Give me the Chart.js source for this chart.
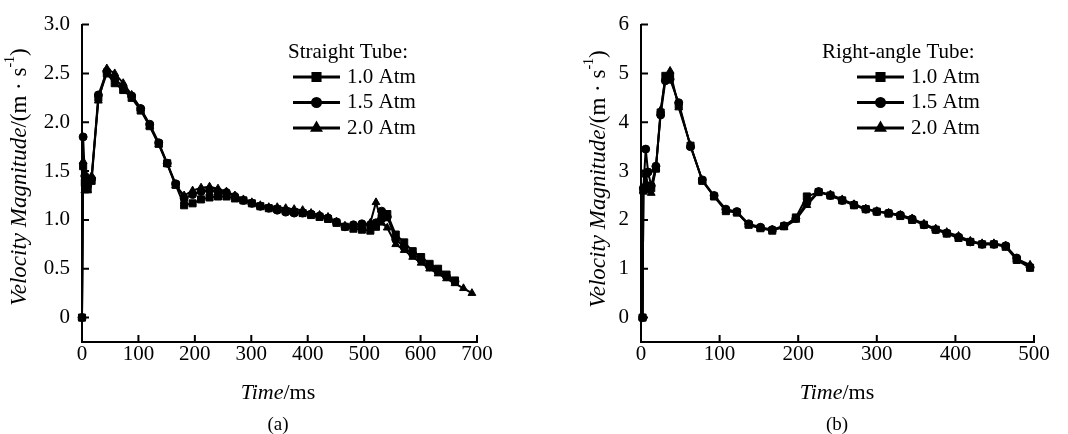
<!DOCTYPE html>
<html>
<head>
<meta charset="utf-8">
<script src="https://cdn.jsdelivr.net/npm/chart.js@4"></script>
<style>
  body { margin: 0; background: #fff; }
  #wrap { position: relative; width: 1068px; height: 434px; background: #fff; }
  .panel { position: absolute; top: 0; width: 534px; height: 434px; }
</style>
</head>
<body>
<div id="wrap">
  <div class="panel" style="left:0"><canvas id="chartA" width="534" height="434"></canvas></div>
  <div class="panel" style="left:534px"><canvas id="chartB" width="534" height="434"></canvas></div>
</div>
<script>
// (a) straight tube - time (ms) and velocity (m/s)
const timeStraight = [0, 2, 5, 10, 17, 29, 44, 58, 73, 88, 104, 120, 136, 151, 166, 181, 196, 211, 226, 241, 256, 271, 286, 301, 316, 331, 346, 361, 376, 391, 406, 421, 436, 451, 466, 481, 496, 511, 521, 531, 541, 556, 571, 586, 601, 616, 631, 646, 661];
const timeStraight20 = [0, 2, 5, 10, 17, 29, 44, 58, 73, 88, 104, 120, 136, 151, 166, 181, 196, 211, 226, 241, 256, 271, 286, 301, 316, 331, 346, 361, 376, 391, 406, 421, 436, 451, 466, 481, 496, 511, 521, 531, 541, 556, 571, 586, 601, 616, 631, 646, 661, 676, 691];
const straight10 = [0, 1.55, 1.38, 1.32, 1.40, 2.25, 2.50, 2.40, 2.33, 2.25, 2.12, 1.96, 1.78, 1.58, 1.36, 1.15, 1.17, 1.21, 1.23, 1.24, 1.24, 1.22, 1.20, 1.17, 1.14, 1.12, 1.11, 1.09, 1.08, 1.07, 1.05, 1.03, 1.01, 0.97, 0.93, 0.91, 0.90, 0.89, 0.93, 1.02, 1.06, 0.85, 0.77, 0.68, 0.62, 0.55, 0.50, 0.44, 0.38];
const straight15 = [0, 1.85, 1.45, 1.35, 1.42, 2.28, 2.52, 2.45, 2.36, 2.27, 2.14, 1.98, 1.79, 1.58, 1.37, 1.22, 1.26, 1.29, 1.30, 1.29, 1.28, 1.24, 1.20, 1.17, 1.14, 1.12, 1.10, 1.08, 1.07, 1.07, 1.06, 1.04, 1.02, 0.98, 0.93, 0.95, 0.96, 0.95, 0.97, 1.09, 1.03, 0.80, 0.72, 0.65, 0.59, 0.52, 0.47, 0.42, 0.37];
const straight20 = [0, 1.60, 1.30, 1.30, 1.45, 2.22, 2.55, 2.50, 2.40, 2.28, 2.14, 1.96, 1.77, 1.57, 1.35, 1.25, 1.30, 1.33, 1.34, 1.32, 1.29, 1.25, 1.21, 1.18, 1.15, 1.13, 1.13, 1.12, 1.11, 1.10, 1.07, 1.05, 1.03, 0.98, 0.94, 0.93, 0.93, 0.97, 1.18, 0.97, 0.92, 0.75, 0.69, 0.62, 0.56, 0.50, 0.45, 0.40, 0.35, 0.30, 0.25];

// (b) right-angle tube
const timeRight = [2, 3, 6, 9, 13, 19, 25, 31, 37, 48, 63, 78, 93, 108, 122, 137, 152, 167, 182, 197, 211, 226, 241, 256, 271, 286, 300, 315, 330, 345, 360, 375, 389, 404, 419, 434, 449, 464, 478, 495];
const right10 = [0, 2.60, 2.95, 2.70, 2.65, 3.05, 4.20, 4.95, 4.95, 4.35, 3.52, 2.80, 2.48, 2.18, 2.15, 1.90, 1.83, 1.78, 1.87, 2.05, 2.48, 2.57, 2.50, 2.40, 2.30, 2.22, 2.17, 2.13, 2.08, 2.00, 1.90, 1.80, 1.72, 1.63, 1.55, 1.50, 1.50, 1.45, 1.18, 1.02];
const right15 = [0, 2.65, 3.45, 2.98, 2.70, 3.10, 4.15, 4.85, 4.88, 4.40, 3.50, 2.82, 2.50, 2.22, 2.17, 1.92, 1.85, 1.80, 1.88, 2.03, 2.35, 2.58, 2.50, 2.40, 2.31, 2.22, 2.17, 2.14, 2.10, 2.02, 1.90, 1.80, 1.73, 1.65, 1.55, 1.50, 1.50, 1.47, 1.22, 1.03];
const right20 = [0, 2.60, 2.75, 2.60, 2.55, 3.05, 4.25, 4.90, 5.05, 4.30, 3.53, 2.80, 2.48, 2.20, 2.15, 1.90, 1.83, 1.80, 1.85, 2.00, 2.30, 2.57, 2.52, 2.42, 2.32, 2.23, 2.18, 2.14, 2.10, 2.03, 1.92, 1.82, 1.75, 1.67, 1.57, 1.52, 1.52, 1.47, 1.20, 1.08];

// ticks and labels
const xTicksA = [0, 100, 200, 300, 400, 500, 600, 700];
const yTicksA = [0, 0.5, 1.0, 1.5, 2.0, 2.5, 3.0];
const yLabelsA = ['0', '0.5', '1.0', '1.5', '2.0', '2.5', '3.0'];
const xTicksB = [0, 100, 200, 300, 400, 500];
const yTicksB = [0, 1, 2, 3, 4, 5, 6];
const seriesNames = ['1.0 Atm', '1.5 Atm', '2.0 Atm'];

const FONT = '"Liberation Serif", "Times New Roman", serif';
const FS = 21;

function fontOf(part, size) {
  const s = part.sup ? Math.round(size * 0.6) : size;
  return (part.italic ? 'italic ' : '') + s + 'px ' + FONT;
}

// draws mixed italic / plain / superscript text centred on (cx, cy)
function drawRich(ctx, parts, cx, cy, size, angle) {
  ctx.save();
  ctx.translate(cx, cy);
  ctx.rotate(angle || 0);
  ctx.textBaseline = 'middle';
  ctx.textAlign = 'left';
  ctx.fillStyle = '#000';
  let w = 0;
  parts.forEach(p => { ctx.font = fontOf(p, size); w += ctx.measureText(p.text).width; });
  let x = -w / 2;
  parts.forEach(p => {
    ctx.font = fontOf(p, size);
    ctx.fillText(p.text, x, p.sup ? -size * 0.42 : 0);
    x += ctx.measureText(p.text).width;
  });
  ctx.restore();
}

const figureText = {
  id: 'figureText',
  afterDraw(chart, args, o) {
    const ctx = chart.ctx;
    const area = chart.chartArea;
    const xs = chart.scales.x;
    const ys = chart.scales.y;
    ctx.save();

    // inward tick marks
    ctx.strokeStyle = '#000';
    ctx.lineWidth = 2;
    ctx.beginPath();
    ys.ticks.forEach(t => {
      const p = ys.getPixelForValue(t.value);
      ctx.moveTo(area.left, p);
      ctx.lineTo(area.left + 7, p);
    });
    xs.ticks.forEach(t => {
      const p = xs.getPixelForValue(t.value);
      ctx.moveTo(p, area.bottom);
      ctx.lineTo(p, area.bottom - 7);
    });
    ctx.stroke();

    // axis titles and caption
    drawRich(ctx, [
      { text: 'Velocity Magnitude', italic: true },
      { text: '/(m · s' },
      { text: '-1', sup: true },
      { text: ')' }
    ], o.yTitleX, o.yTitleY, 23, -Math.PI / 2);
    drawRich(ctx, [{ text: 'Time', italic: true }, { text: '/ms' }], o.xTitleX, 393, 22);
    drawRich(ctx, [{ text: o.caption }], o.xTitleX, 425, 19);

    // legend
    ctx.fillStyle = '#000';
    ctx.font = FS + 'px ' + FONT;
    ctx.textBaseline = 'middle';
    ctx.textAlign = 'left';
    ctx.fillText(o.legendTitle, o.legendX, 52);
    chart.data.datasets.forEach((ds, i) => {
      const y = 77 + i * 25.5;
      const x0 = o.legendX + o.lineStart;
      const x1 = x0 + 47;
      ctx.beginPath();
      ctx.lineWidth = 3;
      ctx.moveTo(x0, y);
      ctx.lineTo(x1, y);
      ctx.stroke();
      Chart.helpers.drawPoint(ctx, { pointStyle: ds.pointStyle, radius: ds.pointRadius, rotation: 0, borderWidth: 1 }, (x0 + x1) / 2, y);
      ctx.fillText(ds.label, x1 + 7, y);
    });
    ctx.restore();
  }
};

function series(label, times, values, style, radius) {
  return {
    label: label,
    data: times.map((t, i) => ({ x: t, y: values[i] })),
    borderColor: '#000',
    backgroundColor: '#000',
    borderWidth: 2,
    pointStyle: style,
    pointRadius: radius,
    pointBorderWidth: 1,
    pointBackgroundColor: '#000',
    pointBorderColor: '#000',
    tension: 0,
    clip: false
  };
}

function makeChart(id, cfg) {
  const tickFont = { family: FONT, size: FS };
  return new Chart(document.getElementById(id), {
    type: 'line',
    data: { datasets: cfg.datasets },
    plugins: [figureText],
    options: {
      responsive: false,
      animation: false,
      devicePixelRatio: 1,
      layout: { padding: { left: 0, top: cfg.top, right: cfg.right, bottom: 0 } },
      plugins: {
        legend: { display: false },
        tooltip: { enabled: false },
        figureText: cfg.text
      },
      scales: {
        x: {
          type: 'linear',
          min: cfg.xMin,
          max: cfg.xMax,
          grid: { display: false, drawTicks: false },
          border: { color: '#000', width: 2 },
          afterBuildTicks: s => { s.ticks = cfg.xTicks.map(v => ({ value: v })); },
          afterFit: s => { s.height = 92; },
          ticks: { font: tickFont, color: '#000', padding: 0, maxRotation: 0, autoSkip: false, callback: v => String(v) }
        },
        y: {
          type: 'linear',
          min: cfg.yMin,
          max: cfg.yMax,
          grid: { display: false, drawTicks: false },
          border: { color: '#000', width: 2 },
          afterBuildTicks: s => { s.ticks = cfg.yTicks.map(v => ({ value: v })); },
          afterFit: s => { s.width = cfg.yWidth; },
          ticks: { font: tickFont, color: '#000', padding: 12, autoSkip: false, callback: (v, i) => cfg.yLabels[i] }
        }
      }
    }
  });
}

makeChart('chartA', {
  datasets: [
    series(seriesNames[0], timeStraight, straight10, 'rect', 5),
    series(seriesNames[1], timeStraight, straight15, 'circle', 4),
    series(seriesNames[2], timeStraight20, straight20, 'triangle', 4.5)
  ],
  top: 16, right: 57, yWidth: 82,
  xMin: 0, xMax: 700, yMin: -0.25, yMax: 3,
  xTicks: xTicksA, yTicks: yTicksA, yLabels: yLabelsA,
  text: { legendTitle: 'Straight Tube:', legendX: 288, lineStart: 5, yTitleX: 20, yTitleY: 177, xTitleX: 278, caption: '(a)' }
});

makeChart('chartB', {
  datasets: [
    series(seriesNames[0], timeRight, right10, 'rect', 5),
    series(seriesNames[1], timeRight, right15, 'circle', 4),
    series(seriesNames[2], timeRight, right20, 'triangle', 4.5)
  ],
  top: 18, right: 34, yWidth: 107,
  xMin: 0, xMax: 500, yMin: -0.5, yMax: 6,
  xTicks: xTicksB, yTicks: yTicksB, yLabels: yTicksB.map(String),
  text: { legendTitle: 'Right-angle Tube:', legendX: 288, lineStart: 35, yTitleX: 65, yTitleY: 179, xTitleX: 303, caption: '(b)' }
});
</script>
</body>
</html>
